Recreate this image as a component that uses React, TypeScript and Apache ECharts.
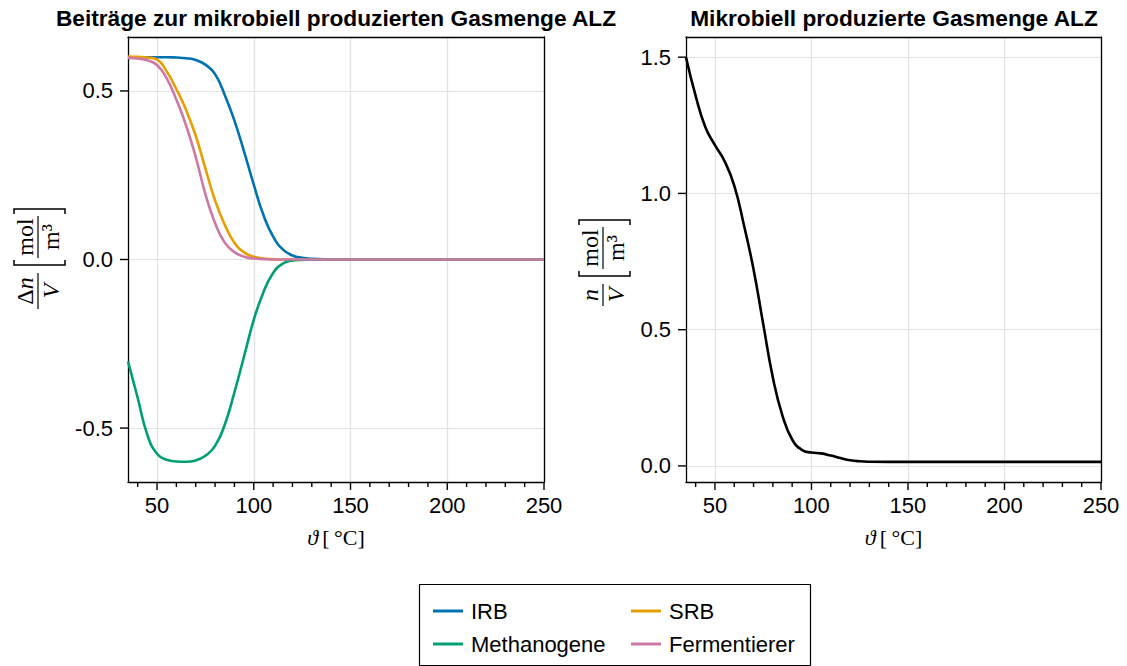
import React, { useEffect, useRef } from 'react';
import * as echarts from 'echarts';

// Temperature grid (°C) on which all curves are sampled
const temperature = [
  35, 40, 45, 50, 55, 60, 65, 70, 75, 80, 85, 90, 95, 100, 105, 110, 115, 120, 125, 130,
  140, 150, 160, 170, 180, 190, 200, 210, 220, 230, 240, 250,
];

// Contributions Δn/V [mol/m³] per microbial group
const irb = [
  0.6, 0.6, 0.6, 0.6, 0.6, 0.599, 0.597, 0.592, 0.578, 0.55, 0.488, 0.412, 0.32, 0.222, 0.132, 0.068, 0.03, 0.012, 0.005, 0.002,
  0.0005, 0, 0, 0, 0, 0, 0, 0, 0, 0, 0, 0,
];
const srb = [
  0.602, 0.601, 0.599, 0.593, 0.558, 0.505, 0.444, 0.367, 0.27, 0.175, 0.103, 0.05, 0.021, 0.008, 0.003, 0.001, 0, 0, 0, 0,
  0, 0, 0, 0, 0, 0, 0, 0, 0, 0, 0, 0,
];
const methanogene = [
  -0.302, -0.41, -0.52, -0.576, -0.594, -0.599, -0.6, -0.596, -0.582, -0.553, -0.49, -0.394, -0.287, -0.179, -0.097, -0.04, -0.012, -0.003, -0.001, 0,
  0, 0, 0, 0, 0, 0, 0, 0, 0, 0, 0, 0,
];
const fermentierer = [
  0.598, 0.596, 0.591, 0.577, 0.537, 0.474, 0.398, 0.304, 0.194, 0.108, 0.05, 0.022, 0.008, 0.003, 0.001, 0, 0, 0, 0, 0,
  0, 0, 0, 0, 0, 0, 0, 0, 0, 0, 0, 0,
];

// Total microbially produced gas n/V [mol/m³]
const gasTotal = [
  1.5, 1.358, 1.244, 1.177, 1.118, 1.029, 0.884, 0.721, 0.521, 0.324, 0.184, 0.097, 0.059, 0.049, 0.046, 0.038, 0.029, 0.021, 0.017, 0.0155,
  0.015, 0.015, 0.015, 0.015, 0.015, 0.015, 0.015, 0.015, 0.015, 0.015, 0.015, 0.015,
];

const xMin = 35;
const xMax = 250;
const yRangeLeft = [-0.66, 0.66];
const yRangeRight = [-0.059, 1.574];
const xMajorTicks = [50, 100, 150, 200, 250];
const xMinorTicks = [40, 60, 70, 80, 90, 110, 120, 130, 140, 160, 170, 180, 190, 210, 220, 230, 240];
const yTicksLeft = [-0.5, 0, 0.5];
const yTicksRight = [0, 0.5, 1, 1.5];

const groupNames = ['IRB', 'SRB', 'Methanogene', 'Fermentierer'];
const groupValues = [irb, srb, methanogene, fermentierer];
const groupColors = ['#0072B2', '#E69F00', '#009E73', '#CC79A7'];

const SANS = '"Liberation Sans", Arial, Helvetica, sans-serif';
const SERIF = '"Liberation Serif", "DejaVu Serif", serif';
const GRID_COLOR = '#e2e2e2';
const FS = 22;
const MATH_FS = 24;
const MAJOR_TICK = 8;
const MINOR_TICK = 5;

const MATH_RICH = {
  it: { fontFamily: SERIF, fontStyle: 'italic', fontSize: MATH_FS, fill: '#000', color: '#000' },
  rm: { fontFamily: SERIF, fontSize: MATH_FS, fill: '#000', color: '#000' },
};

const AXIS_RICH = {
  it: { fontFamily: SERIF, fontStyle: 'italic', fontSize: FS, color: '#000' },
  rm: { fontFamily: SERIF, fontSize: FS, color: '#000' },
};

const FRAME = { color: '#000', width: 1.3 };

const pairs = (vals: number[]) => temperature.map((t, i) => [t, vals[i]]);

const mainX = (gridIndex: number) => ({
  type: 'value',
  gridIndex,
  min: xMin,
  max: xMax,
  position: 'bottom',
  name: '{it|ϑ}{rm|\u2009[\u2009°C]}',
  nameLocation: 'middle',
  nameGap: 44,
  nameTextStyle: { rich: AXIS_RICH },
  axisLine: { show: true, onZero: false, lineStyle: FRAME },
  axisTick: { show: false, customValues: xMajorTicks },
  axisLabel: { show: true, customValues: xMajorTicks, fontSize: FS, fontFamily: SANS, color: '#000', margin: 12 },
  splitLine: { show: true, lineStyle: { color: GRID_COLOR, width: 1.2 } },
});

// top edge of the frame
const topX = (gridIndex: number) => ({
  type: 'value',
  gridIndex,
  min: xMin,
  max: xMax,
  position: 'top',
  axisLine: { show: true, onZero: false, lineStyle: FRAME },
  axisTick: { show: false },
  axisLabel: { show: false },
  splitLine: { show: false },
});

const yAxisCfg = (gridIndex: number, range: number[], ticks: number[]) => ({
  type: 'value',
  gridIndex,
  min: range[0],
  max: range[1],
  position: 'left',
  axisLine: { show: true, onZero: false, lineStyle: FRAME },
  axisTick: { show: false, customValues: ticks },
  axisLabel: {
    show: true,
    customValues: ticks,
    formatter: (v: number) => v.toFixed(1),
    fontSize: FS,
    fontFamily: SANS,
    color: '#000',
    margin: 15,
  },
  splitLine: { show: true, lineStyle: { color: GRID_COLOR, width: 1.2 } },
});

// right edge of the frame
const rightY = (gridIndex: number, range: number[]) => ({
  type: 'value',
  gridIndex,
  min: range[0],
  max: range[1],
  position: 'right',
  axisLine: { show: true, onZero: false, lineStyle: FRAME },
  axisTick: { show: false },
  axisLabel: { show: false },
  splitLine: { show: false },
});

// Rotated TeX-like axis label: num/den [mol/m³]
function fractionLabel(id: string, cx: number, cy: number, num: string, den: string, fracW: number) {
  const gap = 8;
  const bracketW = 56;
  const total = fracW + gap + bracketW;
  const x0 = -total / 2;
  const fc = x0 + fracW / 2;
  const lb = x0 + fracW + gap;
  const rb = lb + bracketW;
  const mc = (lb + rb) / 2;
  const bTop = -24;
  const bBot = 27;
  const txt = (x: number, y: number, text: string, va: string) => ({
    type: 'text',
    x,
    y,
    style: { text, rich: MATH_RICH, align: 'center', verticalAlign: va, fontFamily: SERIF, fontSize: MATH_FS, fill: '#000' },
  });
  const bar = (xa: number, xb: number) => ({
    type: 'line',
    shape: { x1: xa, y1: 0, x2: xb, y2: 0 },
    style: { stroke: '#000', lineWidth: 1.2 },
  });
  const bracket = (x: number, dir: number) => ({
    type: 'polyline',
    shape: { points: [[x + dir * 5, bTop], [x, bTop], [x, bBot], [x + dir * 5, bBot]] },
    style: { stroke: '#000', lineWidth: 1.5, fill: 'none' },
  });
  return {
    id,
    type: 'group',
    x: cx,
    y: cy,
    rotation: Math.PI / 2,
    children: [
      txt(fc, -1, num, 'bottom'),
      bar(fc - fracW / 2, fc + fracW / 2),
      txt(fc, 1, den, 'top'),
      bracket(lb, 1),
      txt(mc, -1, '{rm|mol}', 'bottom'),
      bar(mc - 21, mc + 21),
      txt(mc, 1, '{rm|m³}', 'top'),
      bracket(rb, -1),
    ],
  };
}

const titleText = (id: string, x: number, text: string) => ({
  id,
  type: 'text',
  x,
  y: 18,
  style: {
    text,
    align: 'center',
    verticalAlign: 'middle',
    fontFamily: SANS,
    fontWeight: 'bold',
    fontSize: 22.7,
    fill: '#000',
  },
});

const legendCfg = (names: string[], left: number) => ({
  data: names,
  orient: 'vertical',
  left,
  top: 600,
  padding: 0,
  itemWidth: 30,
  itemHeight: 3,
  itemGap: 11,
  icon: 'rect',
  selectedMode: false,
  textStyle: { fontFamily: SANS, fontSize: FS, color: '#000', padding: [0, 0, 0, 3] },
});

// Outward tick marks for one panel, located with the chart's own axis scales
function tickElements(chart: any, prefix: string, xAxisIndex: number, yAxisIndex: number, yRange: number[], yTicks: number[]) {
  const style = { stroke: '#000', lineWidth: 1.4 };
  const bottom = chart.convertToPixel({ yAxisIndex }, yRange[0]);
  const left = chart.convertToPixel({ xAxisIndex }, xMin);
  const els: any[] = [];
  const xTick = (v: number, len: number, k: string) => {
    const px = chart.convertToPixel({ xAxisIndex }, v);
    els.push({ id: `${prefix}-x-${k}-${v}`, type: 'line', z: 50, shape: { x1: px, y1: bottom, x2: px, y2: bottom + len }, style, silent: true });
  };
  xMajorTicks.forEach((v) => xTick(v, MAJOR_TICK, 'maj'));
  xMinorTicks.forEach((v) => xTick(v, MINOR_TICK, 'min'));
  yTicks.forEach((v) => {
    const py = chart.convertToPixel({ yAxisIndex }, v);
    els.push({ id: `${prefix}-y-${v}`, type: 'line', z: 50, shape: { x1: left - MAJOR_TICK, y1: py, x2: left, y2: py }, style, silent: true });
  });
  return els;
}

export default function App() {
  const ref = useRef<HTMLDivElement>(null);

  useEffect(() => {
    if (!ref.current) return;
    const chart = echarts.init(ref.current, undefined, { renderer: 'svg' });

    const groupSeries = groupNames.map((name, i) => ({
      name,
      type: 'line',
      xAxisIndex: 0,
      yAxisIndex: 0,
      data: pairs(groupValues[i]),
      showSymbol: false,
      symbol: 'none',
      smooth: 0.5,
      lineStyle: { width: 2.6, color: groupColors[i] },
      itemStyle: { color: groupColors[i] },
    }));

    const staticGraphics = [
      titleText('title-left', 336, 'Beiträge zur mikrobiell produzierten Gasmenge ALZ'),
      titleText('title-right', 894, 'Mikrobiell produzierte Gasmenge ALZ'),
      fractionLabel('ylabel-left', 38, 259, '{rm|Δ}{it|n}', '{it|V}', 36),
      fractionLabel('ylabel-right', 603, 263, '{it|n}', '{it|V}', 22),
      {
        id: 'legend-box',
        type: 'rect',
        shape: { x: 419.5, y: 584.5, width: 391, height: 81 },
        style: { stroke: '#000', lineWidth: 1.2, fill: 'none' },
      },
    ];

    const option = {
      animation: false,
      backgroundColor: '#ffffff',
      grid: [
        { left: 128, top: 37, width: 416, height: 445, show: false, outerBoundsMode: 'none' },
        { left: 686, top: 37, width: 415, height: 445, show: false, outerBoundsMode: 'none' },
      ],
      xAxis: [mainX(0), mainX(1), topX(0), topX(1)],
      yAxis: [
        yAxisCfg(0, yRangeLeft, yTicksLeft),
        yAxisCfg(1, yRangeRight, yTicksRight),
        rightY(0, yRangeLeft),
        rightY(1, yRangeRight),
      ],
      legend: [legendCfg(['IRB', 'Methanogene'], 433), legendCfg(['SRB', 'Fermentierer'], 631)],
      series: [
        ...groupSeries,
        {
          name: 'Gasmenge',
          type: 'line',
          xAxisIndex: 1,
          yAxisIndex: 1,
          data: pairs(gasTotal),
          showSymbol: false,
          symbol: 'none',
          smooth: 0.5,
          lineStyle: { width: 2.6, color: '#000' },
          itemStyle: { color: '#000' },
        },
      ],
      graphic: staticGraphics,
    };

    chart.setOption(option as any);

    const ticks = [
      ...tickElements(chart, 'l', 0, 0, yRangeLeft, yTicksLeft),
      ...tickElements(chart, 'r', 1, 1, yRangeRight, yTicksRight),
    ];
    chart.setOption({ graphic: [...staticGraphics, ...ticks] } as any);

    return () => chart.dispose();
  }, []);

  return (
    <div
      ref={ref}
      style={{ position: 'absolute', left: 0, top: 0, width: 1127, height: 666, background: '#fff' }}
    />
  );
}
